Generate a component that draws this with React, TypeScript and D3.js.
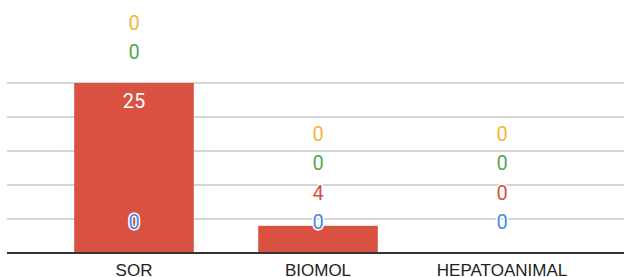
import React, { useEffect, useRef } from 'react';
import * as d3 from 'd3';

const categories = ['SOR', 'BIOMOL', 'HEPATOANIMAL'];
const seriesNames = ['blue', 'red', 'green', 'yellow'];
const blueVals = [0, 0, 0];
const redVals = [25, 4, 0];
const greenVals = [0, 0, 0];
const yellowVals = [0, 0, 0];
const colors = ['#4a86e8', '#d95140', '#55a84f', '#f4b73a'];
const gridTicks = [5, 10, 15, 20, 25];

const W = 624;
const H = 277;

export default function App() {
    const svgRef = useRef<SVGSVGElement>(null);

    useEffect(() => {
        const svg = d3.select(svgRef.current);
        svg.selectAll('*').remove();

        const rows = categories.map((c, i) => ({
            cat: c,
            blue: blueVals[i], red: redVals[i], green: greenVals[i], yellow: yellowVals[i]
        }));
        const stacked = d3.stack<any>().keys(seriesNames)(rows);

        const x = d3.scaleBand()
            .domain(categories)
            .range([42, 594])
            .paddingInner(0.35)
            .paddingOuter(0.175);

        const y = d3.scaleLinear()
            .domain([0, 25])
            .range([253, 83]);

        // gridlines
        svg.append('g')
            .selectAll('line')
            .data(gridTicks)
            .enter().append('line')
            .attr('x1', 7).attr('x2', W)
            .attr('y1', d => y(d)).attr('y2', d => y(d))
            .attr('stroke', '#d4d4d4')
            .attr('stroke-width', 2);

        // bars
        stacked.forEach((s, si) => {
            svg.append('g')
                .selectAll('rect')
                .data(s)
                .enter().append('rect')
                .attr('x', d => x(d.data.cat)!)
                .attr('width', x.bandwidth())
                .attr('y', d => y(d[1]))
                .attr('height', d => y(d[0]) - y(d[1]))
                .attr('fill', colors[si]);
        });

        // baseline
        svg.append('line')
            .attr('x1', 7).attr('x2', W)
            .attr('y1', y(0)).attr('y2', y(0))
            .attr('stroke', '#333')
            .attr('stroke-width', 2);

        // annotations, stacked upward
        categories.forEach((c, ci) => {
            const cx = x(c)! + x.bandwidth() / 2;
            let prev = Infinity;
            stacked.forEach((s, si) => {
                const d = s[ci];
                const top = y(d[1]);
                const hgt = y(d[0]) - top;
                const val = d[1] - d[0];
                let cy: number;
                let inside = false;
                if (hgt > 40) {
                    inside = true;
                    cy = top + 18;
                    prev = top + 31;
                } else {
                    cy = Math.min(top - 31, prev - 29.5);
                    prev = cy;
                }
                svg.append('text')
                    .attr('x', cx)
                    .attr('y', cy)
                    .attr('text-anchor', 'middle')
                    .attr('dominant-baseline', 'central')
                    .attr('font-family', 'Roboto, Arial, sans-serif')
                    .attr('font-size', 20)
                    .attr('fill', inside ? '#fff' : colors[si])
                    .attr('stroke', inside ? 'none' : '#fff')
                    .attr('stroke-width', 3)
                    .attr('paint-order', 'stroke')
                    .text(String(val));
            });
        });

        // category labels
        svg.append('g')
            .selectAll('text')
            .data(categories)
            .enter().append('text')
            .attr('x', d => x(d)! + x.bandwidth() / 2)
            .attr('y', 276)
            .attr('text-anchor', 'middle')
            .attr('font-family', 'Arial, "Liberation Sans", sans-serif')
            .attr('font-size', 17)
            .attr('fill', '#222')
            .text(d => d);
    }, []);

    return (
        <svg ref={svgRef} width={W} height={H}
            style={{ position: 'absolute', left: 0, top: 0, background: '#fff' }} />
    );
}
